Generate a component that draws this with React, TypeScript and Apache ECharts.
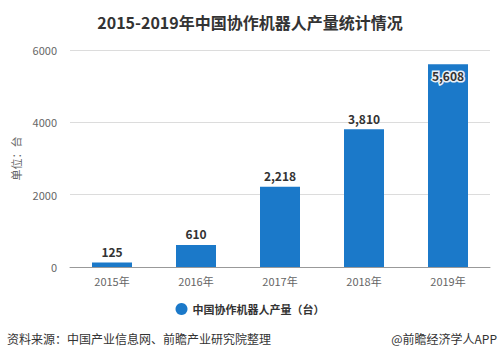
import React, { useEffect, useRef } from "react";
import * as echarts from "echarts";

const categories = ["2015年", "2016年", "2017年", "2018年", "2019年"];
const production = [125, 610, 2218, 3810, 5608];
const yTicks = [0, 2000, 4000, 6000];
const seriesName = "中国协作机器人产量（台）";
const titleText = "2015-2019年中国协作机器人产量统计情况";
const sourceText = "资料来源：中国产业信息网、前瞻产业研究院整理";
const creditText = "@前瞻经济学人APP";
const unitText = "单位：台";

const FONT = "'Noto Sans CJK SC', 'Noto Sans', sans-serif";

export default function App() {
  const ref = useRef<HTMLDivElement>(null);
  useEffect(() => {
    if (!ref.current) return;
    const chart = echarts.init(ref.current, undefined, { renderer: "svg" });
    const fmt = (v: number) => v.toLocaleString("en-US");
    const maxVal = yTicks[yTicks.length - 1];
    chart.setOption({
      animation: false,
      backgroundColor: "#ffffff",
      textStyle: { fontFamily: FONT },
      title: {
        text: titleText,
        left: "center",
        top: 9,
        textStyle: { fontSize: 16, fontWeight: "bold", color: "#333", fontFamily: FONT },
      },
      grid: { left: 70, right: 10, top: 50, bottom: 93, containLabel: false },
      legend: {
        data: [seriesName],
        bottom: 40,
        left: "center",
        icon: "circle",
        itemWidth: 12,
        itemHeight: 12,
        itemGap: 8,
        textStyle: { fontSize: 11, fontWeight: "bold", color: "#333", fontFamily: FONT },
      },
      xAxis: {
        type: "category",
        data: categories,
        axisLine: { lineStyle: { color: "#999", width: 1 } },
        axisTick: { alignWithLabel: true, length: 5, lineStyle: { color: "#999" } },
        axisLabel: { color: "#666", fontSize: 11, margin: 8, fontFamily: FONT },
      },
      yAxis: {
        type: "value",
        min: 0,
        max: maxVal,
        interval: 2000,
        name: unitText,
        nameLocation: "middle",
        nameRotate: 90,
        nameGap: 46,
        nameTextStyle: { color: "#666", fontSize: 11, fontFamily: FONT },
        axisLine: { show: false },
        axisTick: { show: false },
        axisLabel: {
          color: "#666",
          fontSize: 11,
          margin: 13,
          fontFamily: FONT,
          formatter: (v: number) => String(v),
        },
        splitLine: { lineStyle: { color: "#dcdcdc", width: 1 } },
      },
      series: [
        {
          name: seriesName,
          type: "bar",
          barWidth: 40,
          itemStyle: { color: "#1b79c9" },
          data: production.map((v) => ({
            value: v,
            label:
              v > maxVal * 0.9
                ? { position: "insideTop", distance: 5, textBorderColor: "#e8f0f8", textBorderWidth: 3 }
                : { position: "top", distance: 5 },
          })),
          label: {
            show: true,
            color: "#333",
            fontSize: 12,
            fontWeight: "bold",
            fontFamily: FONT,
            formatter: (p: any) => fmt(p.value),
          },
        },
      ],
      graphic: [
        {
          type: "text",
          left: 7,
          top: 332,
          style: { text: sourceText, fill: "#333", fontSize: 12, fontFamily: FONT },
        },
        {
          type: "text",
          right: 3,
          top: 332,
          style: { text: creditText, fill: "#333", fontSize: 12, fontFamily: FONT },
        },
      ],
    });
    return () => chart.dispose();
  }, []);
  return (
    <div
      ref={ref}
      style={{ position: "fixed", left: 0, top: 0, width: 500, height: 360 }}
    />
  );
}
